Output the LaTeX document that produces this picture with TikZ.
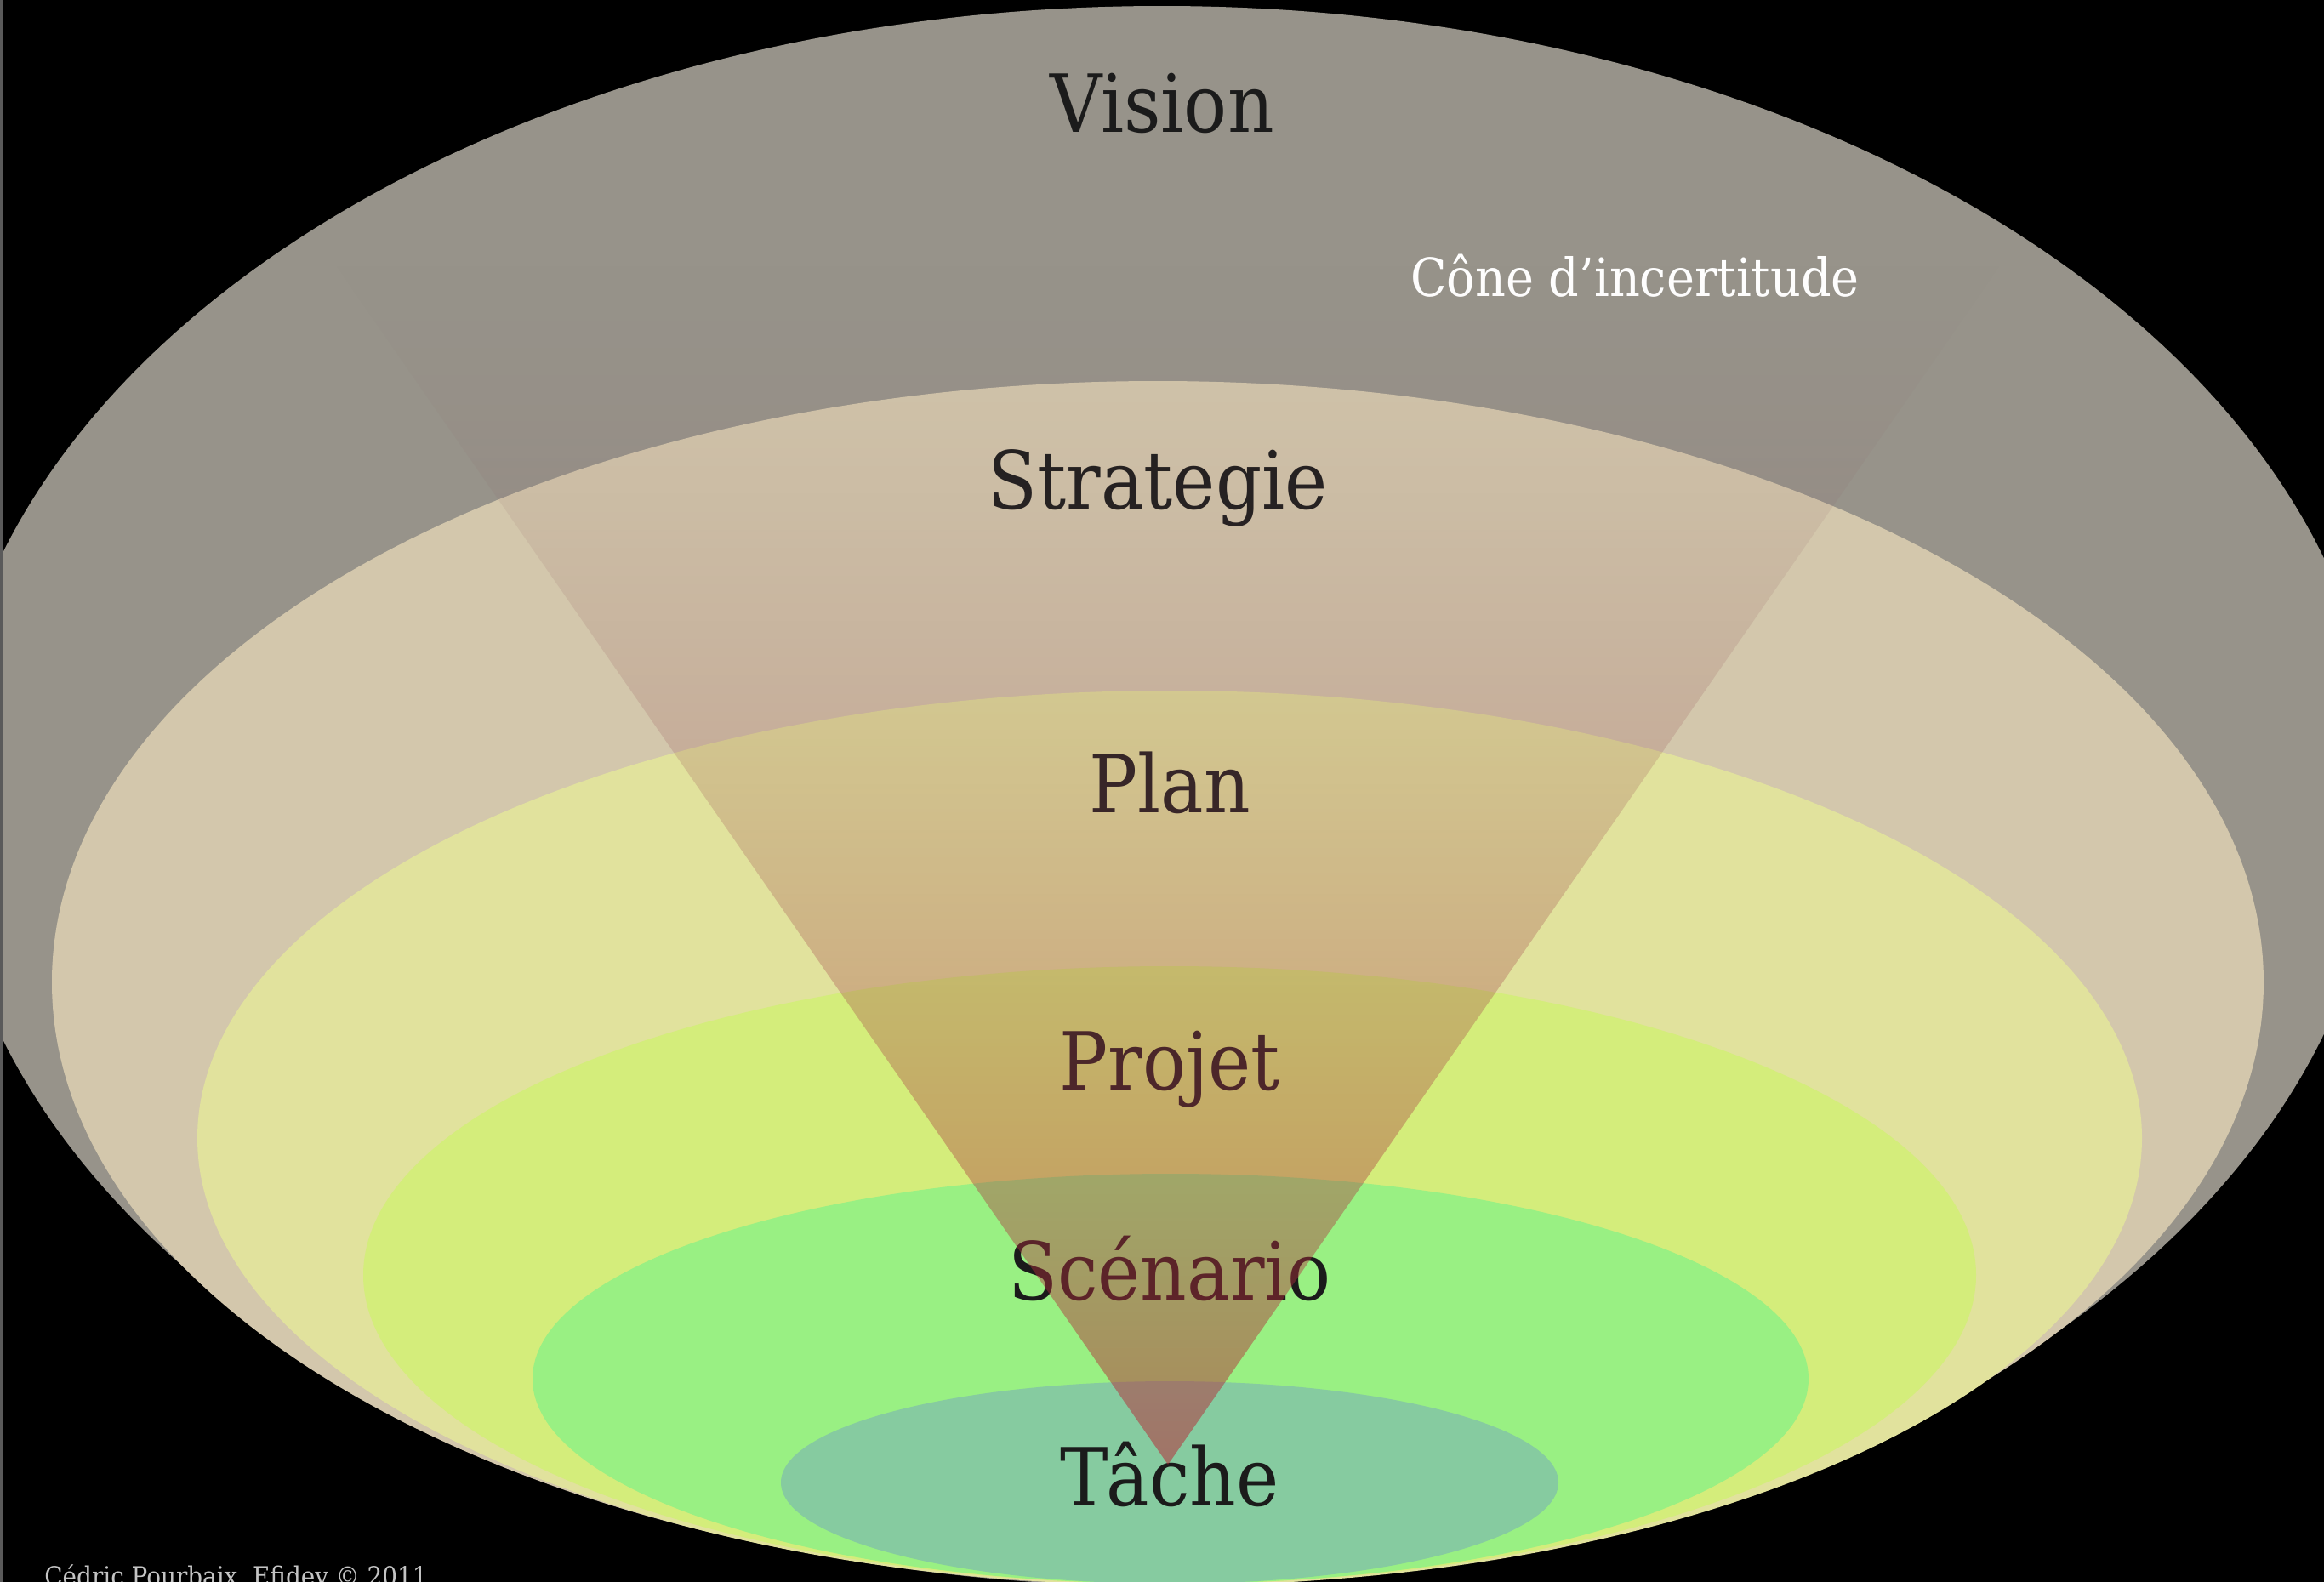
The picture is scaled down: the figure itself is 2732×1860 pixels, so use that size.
\documentclass[tikz,border=0pt]{standalone}
\usepackage{fontspec}
\setmainfont{DejaVu Serif}[FakeStretch=0.9]
\usetikzlibrary{fadings}
\definecolor{visioncol}{HTML}{97938A}
\definecolor{strategiecol}{HTML}{D3C7AC}
\definecolor{plancol}{HTML}{E1E29D}
\definecolor{projetcol}{HTML}{D4ED7B}
\definecolor{scenariocol}{HTML}{99F083}
\definecolor{tachecol}{HTML}{86CBA0}
\definecolor{labelcol}{HTML}{1B1B1B}
\definecolor{conetop}{RGB}{130,112,114}
\definecolor{conecol}{RGB}{186,36,50}
\definecolor{creditcol}{HTML}{C4C4C4}
\definecolor{edgecol}{HTML}{5A5A5A}
\tikzfading[name=conefade,top color=transparent!100,bottom color=transparent!48]

\begin{document}
\begin{tikzpicture}[x=0.01cm,y=-0.01cm,
  lbl/.style={anchor=base,text=labelcol,font=\fontsize{26.8}{30}\selectfont},
  conelbl/.style={anchor=base,text=white,font=\fontsize{17.6}{20}\selectfont},
  credit/.style={anchor=base west,text=creditcol,font=\fontsize{8.8}{10}\selectfont}]
\useasboundingbox (0,0) rectangle (2732,1860);
\fill[black] (0,0) rectangle (2732,1860);
\begin{scope}
\clip (0,0) rectangle (2732,1860);
% nested levels, outer to inner
\foreach \cx/\cy/\rx/\ry/\col in %
{1366/936/1432/929/visioncol,1361/1155/1300/707/strategiecol,
 1375/1338/1143/526/plancol,1375/1499/948/363/projetcol,
 1376/1621/750/241/scenariocol,1375/1743/457/119/tachecol} {
   \fill[\col] (\cx,\cy) ellipse [x radius=\rx, y radius=\ry];
}
\end{scope}
\fill[edgecol] (0,0) rectangle (3,1860);
\node[lbl] (vision) at (1366,155) {Vision};
\node[lbl] (strategie) at (1361,598) {Strategie};
\node[lbl] (plan) at (1375,955) {Plan};
\node[lbl] (projet) at (1375,1281) {Projet};
\node[lbl] (scenario) at (1375,1528) {Scénario};
\node[lbl] (tache) at (1375,1770) {Tâche};
\node[conelbl] (cone) at (1922,348) {Cône d’incertitude};
\node[credit] (auteur) at (40,1864) {Cédric Pourbaix, Efidev © 2011};
% cone over the labels
\shade[top color=conetop,bottom color=conecol,path fading=conefade]
   (394,310) -- (2356,310) -- (1375,1722) -- cycle;
\end{tikzpicture}
\end{document}
